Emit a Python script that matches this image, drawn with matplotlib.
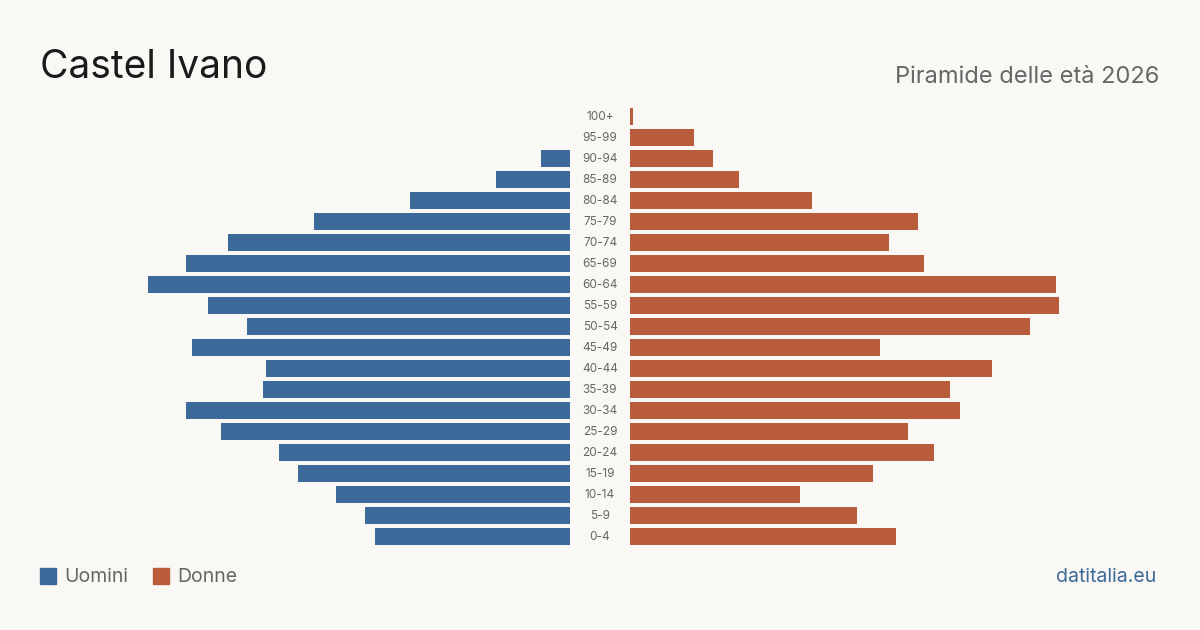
import matplotlib
matplotlib.use("Agg")
import matplotlib.pyplot as plt
from matplotlib.patches import Rectangle

plt.rcParams['font.family'] = ['Inter', 'DejaVu Sans']

age_groups = ["100+", "95-99", "90-94", "85-89", "80-84", "75-79", "70-74", "65-69",
              "60-64", "55-59", "50-54", "45-49", "40-44", "35-39", "30-34", "25-29",
              "20-24", "15-19", "10-14", "5-9", "0-4"]
men = [0, 0, 9, 23, 50, 80, 107, 120, 132, 113, 101, 118, 95, 96, 120, 109, 91, 85, 73, 64, 61]
women = [1, 20, 26, 34, 57, 90, 81, 92, 133, 134, 125, 78, 113, 100, 103, 87, 95, 76, 53, 71, 83]

title = "Castel Ivano"
subtitle = "Piramide delle età 2026"
legend_labels = ["Uomini", "Donne"]
source = "datitalia.eu"

BG = "#f9f8f4"
BLUE = "#3b6a9a"
ORANGE = "#b85c3c"
GREY = "#666666"

W, H = 1200, 630
fig = plt.figure(figsize=(W / 100, H / 100), dpi=100, facecolor=BG)

px_per_unit = 3.2
axw = 430
xmax = axw / px_per_unit
row = 21
top_center = 116.5
n = len(age_groups)
ax_top = top_center - row / 2
ax_h = row * n

def fx(x): return x / W
def fy(y): return 1 - y / H

axL = fig.add_axes([fx(570 - axw), fy(ax_top + ax_h), fx(axw), ax_h / H])
axR = fig.add_axes([fx(630), fy(ax_top + ax_h), fx(axw), ax_h / H])
ypos = list(range(n))
for ax, vals, col in ((axL, men, BLUE), (axR, women, ORANGE)):
    ax.barh(ypos, vals, height=0.8, color=col)
    ax.set_ylim(n - 0.5, -0.5)
    ax.set_facecolor("none")
    ax.axis("off")
axL.set_xlim(xmax, 0)
axR.set_xlim(0, xmax)

for i, lab in enumerate(age_groups):
    fig.text(fx(600), fy(top_center + i * row + 0.5), lab, ha="center", va="center",
             fontsize=8.5, color=GREY)

fig.text(fx(40), fy(67), title, ha="left", va="center", fontsize=28, color="#1a1a1a")
fig.text(fx(1159), fy(77), subtitle, ha="right", va="center", fontsize=17, color=GREY)

# legend
for (x0, lab, col) in ((40, legend_labels[0], BLUE), (153, legend_labels[1], ORANGE)):
    fig.patches.append(Rectangle((fx(x0), fy(584)), fx(16), 16 / H, color=col,
                                 transform=fig.transFigure, figure=fig))
    fig.text(fx(x0 + 24), fy(577), lab, ha="left", va="center", fontsize=14, color=GREY)

fig.text(fx(1156), fy(577), source, ha="right", va="center", fontsize=14, color=BLUE)

fig.savefig("out.png", dpi=100, facecolor=BG)
